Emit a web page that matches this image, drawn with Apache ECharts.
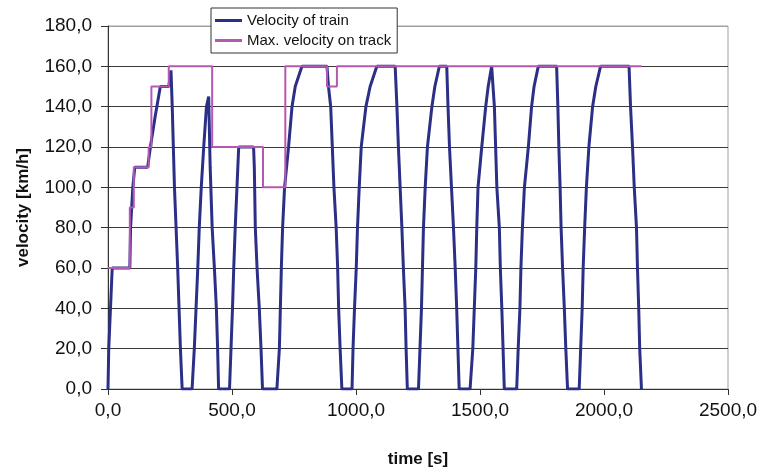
<!DOCTYPE html>
<html lang="en">
<head>
    <meta charset="UTF-8">
    <title>Velocity of train</title>
    <script type="text/javascript" src="https://cdn.jsdelivr.net/npm/echarts@6/dist/echarts.min.js"></script>
    <style>
        html, body { margin: 0; padding: 0; background: #fff; }
        #chart { width: 762px; height: 473px; }
    </style>
</head>
<body>
<div id="chart"></div>
<script type="text/javascript">
    // velocity of train
    var trainTime = [
        0, 3, 10, 17, 88, 91, 100, 108, 160, 171, 190, 211, 245, 254, 259, 268, 281, 292, 299,
        339, 348, 355, 362, 368, 376, 386, 397, 406, 412, 420, 429, 437, 442, 446,
        490, 496, 502, 507, 513, 520, 527, 587, 590, 594, 601, 610, 617, 623,
        681, 691, 695, 699, 704, 712, 728, 742, 755, 782, 883, 889, 898, 911, 920, 926, 930, 936, 943,
        984, 988, 994, 1001, 1006, 1013, 1021, 1040, 1057, 1084, 1158, 1165, 1171, 1178, 1185, 1191, 1198, 1202, 1207,
        1252, 1258, 1264, 1268, 1272, 1279, 1288, 1306, 1318, 1336, 1366, 1371, 1377, 1385, 1393, 1400, 1406, 1411, 1416,
        1460, 1471, 1477, 1483, 1487, 1492, 1507, 1523, 1533, 1547, 1554, 1558, 1563, 1568, 1578, 1582, 1588, 1593, 1598,
        1648, 1654, 1661, 1665, 1671, 1679, 1695, 1708, 1718, 1735, 1809, 1814, 1818, 1823, 1827, 1833, 1840, 1846, 1853,
        1900, 1906, 1912, 1916, 1922, 1929, 1939, 1954, 1967, 1986, 2101, 2107, 2115, 2122, 2131, 2135, 2140, 2144, 2151
    ];
    var trainSpeed = [
        0, 20, 40, 60, 60, 80, 100, 110, 110, 120, 135, 150, 150, 158, 140, 100, 60, 20, 0,
        0, 20, 40, 60, 80, 100, 120, 140, 145, 110, 80, 60, 40, 20, 0,
        0, 20, 40, 60, 80, 100, 120, 120, 110, 80, 60, 40, 20, 0,
        0, 20, 40, 60, 80, 100, 120, 140, 150, 160, 160, 150, 140, 100, 80, 60, 40, 20, 0,
        0, 20, 40, 60, 80, 100, 120, 140, 150, 160, 160, 140, 120, 100, 80, 60, 40, 20, 0,
        0, 20, 40, 60, 80, 100, 120, 140, 150, 160, 160, 140, 120, 100, 80, 60, 40, 20, 0,
        0, 20, 40, 60, 80, 100, 120, 140, 150, 160, 160, 140, 120, 100, 80, 60, 40, 20, 0,
        0, 20, 40, 60, 80, 100, 120, 140, 150, 160, 160, 140, 120, 100, 80, 60, 40, 20, 0,
        0, 20, 40, 60, 80, 100, 120, 140, 150, 160, 160, 140, 120, 100, 80, 60, 40, 20, 0
    ];
    // max. velocity on track (each value holds until the next time)
    var limitTime = [0, 88, 104, 164, 175, 245, 420, 625, 715, 883, 923, 2151];
    var limitSpeed = [60, 90, 110, 120, 150, 160, 120, 100, 160, 150, 160, 160];

    var seriesNames = ['Velocity of train', 'Max. velocity on track'];

    function pairs(xs, ys) {
        var out = [];
        for (var i = 0; i < xs.length; i++) {
            out.push([xs[i], ys[i]]);
        }
        return out;
    }
    function comma(v) {
        return v.toFixed(1).replace('.', ',');
    }

    var gridColors = [];
    for (var i = 0; i < 9; i++) gridColors.push('#3a3a3a');
    gridColors.push('#a0a0a0');

    var mychart = echarts.init(document.getElementById('chart'));
    var option = {
        animation: false,
        textStyle: { fontFamily: 'Liberation Sans, Arial, sans-serif' },
        grid: {
            left: 108, right: 34, top: 26, bottom: 83,
            show: true, borderColor: '#a0a0a0', borderWidth: 1
        },
        legend: {
            orient: 'vertical',
            left: 211, top: 8,
            padding: [5, 6, 5, 4],
            itemGap: 5,
            itemWidth: 27,
            itemHeight: 3,
            icon: 'rect',
            backgroundColor: '#fff',
            borderColor: '#333',
            borderWidth: 1,
            textStyle: { fontSize: 15, color: '#111' },
            data: seriesNames
        },
        xAxis: {
            type: 'value',
            min: 0, max: 2500, interval: 500,
            name: 'time [s]',
            nameLocation: 'middle',
            nameGap: 62,
            nameTextStyle: { fontSize: 17, fontWeight: 'bold', color: '#111' },
            axisLine: { lineStyle: { color: '#333' } },
            axisTick: { length: 6, lineStyle: { color: '#333' } },
            axisLabel: { fontSize: 19, color: '#111', margin: 12, formatter: comma },
            splitLine: { show: false }
        },
        yAxis: {
            type: 'value',
            min: 0, max: 180, interval: 20,
            name: 'velocity [km/h]',
            nameLocation: 'middle',
            nameGap: 76,
            nameTextStyle: { fontSize: 17, fontWeight: 'bold', color: '#111' },
            axisLine: { show: true, lineStyle: { color: '#333' } },
            axisTick: { show: true, length: 7, lineStyle: { color: '#333' } },
            axisLabel: { fontSize: 19, color: '#111', margin: 16, formatter: comma },
            splitLine: { lineStyle: { color: gridColors, width: 1 } }
        },
        series: [
            {
                name: seriesNames[0],
                type: 'line',
                showSymbol: false,
                color: '#2b2f86',
                lineStyle: { width: 3, color: '#2b2f86' },
                data: pairs(trainTime, trainSpeed),
                z: 2
            },
            {
                name: seriesNames[1],
                type: 'line',
                step: 'end',
                showSymbol: false,
                color: '#b657b4',
                lineStyle: { width: 2, color: '#b657b4' },
                data: pairs(limitTime, limitSpeed),
                z: 3
            }
        ]
    };
    mychart.setOption(option);
</script>
</body>
</html>
